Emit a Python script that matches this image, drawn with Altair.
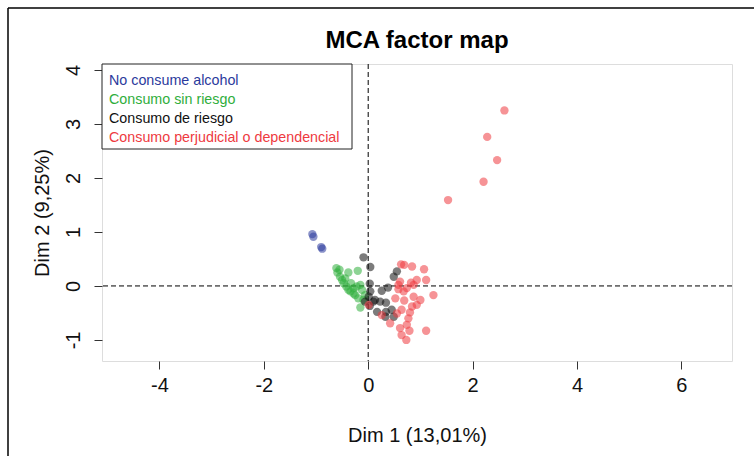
import altair as alt
import pandas as pd

categories = ["No consume alcohol", "Consumo sin riesgo", "Consumo de riesgo",
              "Consumo perjudicial o dependencial"]
colors = ["#2b3a9c", "#2fae3c", "#111111", "#ee3a3f"]

blue_x = [-1.07, -1.05, -0.90, -0.88]
blue_y = [0.96, 0.91, 0.72, 0.69]

green_x = [-0.61, -0.59, -0.54, -0.50, -0.47, -0.42, -0.38, -0.34, -0.28, -0.25,
           -0.20, -0.38, -0.15, -0.12, -0.19, -0.09, -0.15, -0.06, -0.33, -0.44,
           -0.55, -0.22, -0.28]
green_y = [0.33, 0.25, 0.17, 0.11, 0.05, -0.01, -0.07, -0.10, -0.14, -0.17,
           0.28, 0.25, 0.02, -0.07, -0.23, -0.26, -0.40, -0.17, 0.05, 0.14,
           0.30, -0.01, -0.04]

black_x = [-0.09, 0.04, 0.03, 0.04, 0.01, 0.13, 0.03, 0.17, 0.23, 0.34,
           0.26, 0.38, 0.49, 0.55, 0.45, 0.34, 0.49, 0.33, -0.06, 0.10]
black_y = [0.53, 0.35, 0.04, -0.10, -0.20, -0.26, -0.37, -0.48, -0.29, -0.31,
           -0.09, -0.03, 0.17, 0.27, -0.44, -0.48, -0.57, -0.57, -0.29, -0.29]

red_x = [0.63, 0.84, 1.07, 0.61, 0.82, 0.93, 1.11, 0.87, 0.74, 0.68,
         0.58, 1.25, 0.52, 0.69, 0.87, 0.93, 0.84, 0.64, 0.80, 0.55,
         0.77, 0.42, 0.61, 0.74, 0.79, 0.64, 0.73, 1.11, 0.26, 0.01,
         1.00, 0.58, 0.69,
         2.61, 2.28, 2.47, 2.21, 1.53]
red_y = [0.40, 0.36, 0.31, 0.08, 0.06, 0.11, 0.11, 0.02, -0.04, -0.10,
         -0.06, -0.17, -0.23, -0.27, -0.20, -0.35, -0.38, -0.44, -0.49, -0.51,
         -0.60, -0.69, -0.78, -0.72, -0.83, -0.91, -1.00, -0.83, -0.54, -0.35,
         -0.26, 0.02, 0.39,
         3.25, 2.76, 2.33, 1.93, 1.59]

x_ticks = [-4, -2, 0, 2, 4, 6]
y_ticks = [-1, 0, 1, 2, 3, 4]
x_domain = [-5.10, 6.97]
y_domain = [-1.39, 4.11]

rows = []
for cat, xs, ys in zip(categories, [blue_x, green_x, black_x, red_x],
                       [blue_y, green_y, black_y, red_y]):
    for a, b in zip(xs, ys):
        rows.append({"x": a, "y": b, "grupo": cat})
df = pd.DataFrame(rows)

FONT = "Liberation Sans"
W, H = 630, 297

xs = alt.Scale(domain=x_domain, nice=False, zero=False)
ys = alt.Scale(domain=y_domain, nice=False, zero=False)

points = alt.Chart(df).mark_circle(size=70, opacity=0.55).encode(
    x=alt.X("x:Q", scale=xs, axis=alt.Axis(
        title="Dim 1 (13,01%)", values=x_ticks, grid=False, domain=False,
        labelExpr="'' + datum.value",
        tickSize=8, tickColor="#333", labelFontSize=20, labelFont=FONT,
        labelColor="#111", labelPadding=6, titleFontSize=20, titleFont=FONT,
        titleFontWeight="normal", titleColor="#111", titleY=80,
        titleBaseline="alphabetic", labelFlush=False)),
    y=alt.Y("y:Q", scale=ys, axis=alt.Axis(
        title="Dim 2 (9,25%)", values=y_ticks, grid=False, domain=False,
        labelExpr="'' + datum.value",
        tickSize=8, tickColor="#333", labelFontSize=20, labelFont=FONT,
        labelColor="#111", labelAngle=-90, labelAlign="center",
        labelBaseline="alphabetic", labelPadding=15, titleFontSize=20,
        titleFont=FONT, titleFontWeight="normal", titleColor="#111",
        titleX=-54, titleBaseline="alphabetic", labelFlush=False)),
    color=alt.Color("grupo:N", scale=alt.Scale(domain=categories, range=colors),
                    legend=None),
)

zero_df = pd.DataFrame({"v": [0]})
vline = alt.Chart(zero_df).mark_rule(color="black", strokeDash=[5, 3], strokeWidth=1).encode(
    x=alt.X("v:Q", scale=xs))
hline = alt.Chart(zero_df).mark_rule(color="black", strokeDash=[5, 3], strokeWidth=1).encode(
    y=alt.Y("v:Q", scale=ys))

# outer figure frame (top and left edges)
frame_top = alt.Chart(zero_df).mark_rule(color="black", strokeWidth=1.5).encode(
    x=alt.value(-94), x2=alt.value(700), y=alt.value(-56))
frame_left = alt.Chart(zero_df).mark_rule(color="black", strokeWidth=1.5).encode(
    x=alt.value(-94), y=alt.value(-56), y2=alt.value(420))

title = alt.Chart(zero_df).mark_text(
    text="MCA factor map", font=FONT, fontSize=24, fontWeight="bold",
    color="black", baseline="alphabetic", align="center").encode(
    x=alt.value(W / 2), y=alt.value(-16))

legend_box = alt.Chart(zero_df).mark_rect(
    fill="white", stroke="#222", strokeWidth=1).encode(
    x=alt.value(0), x2=alt.value(250), y=alt.value(0), y2=alt.value(85))

legend_rows = [16.7, 35.5, 55.3, 74]
legend_texts = []
for cat, col, yy in zip(categories, colors, legend_rows):
    legend_texts.append(alt.Chart(zero_df).mark_text(
        text=cat, font=FONT, fontSize=14.3, color=col, align="left",
        baseline="middle").encode(x=alt.value(7), y=alt.value(yy)))

chart = alt.layer(frame_top, frame_left, vline, hline, points, legend_box,
                  *legend_texts, title).properties(
    width=W, height=H,
    autosize=alt.AutoSizeParams(type="none"),
    padding={"left": 102, "top": 64, "right": 22, "bottom": 95},
).configure_view(stroke="#555", strokeWidth=1.5).configure(background="white")

chart.save("out.html", embed_options={"renderer": "svg", "actions": False})
